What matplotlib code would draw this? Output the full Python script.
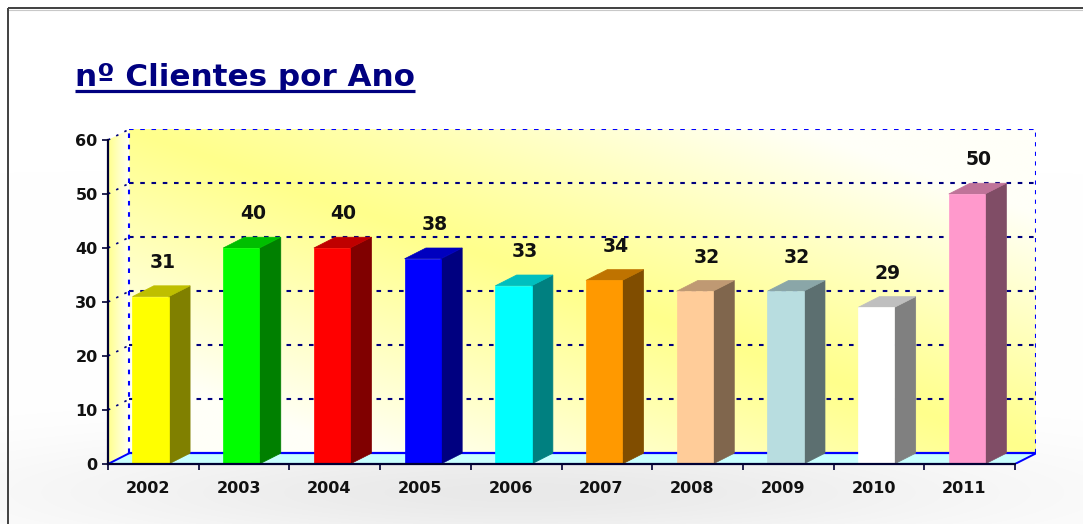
import numpy as np
import matplotlib
matplotlib.use("Agg")
import matplotlib.pyplot as plt
from matplotlib.patches import Rectangle, Polygon
from matplotlib.lines import Line2D
from matplotlib.colors import to_rgb

# ---------------- data ----------------
years = ["2002", "2003", "2004", "2005", "2006", "2007", "2008", "2009", "2010", "2011"]
clients = [31, 40, 40, 38, 33, 34, 32, 32, 29, 50]
bar_colors = ["#ffff00", "#00ff00", "#ff0000", "#0000ff", "#00ffff",
              "#ff9900", "#ffcc99", "#b8dde0", "#ffffff", "#ff99cc"]
y_ticks = [0, 10, 20, 30, 40, 50, 60]
title = "nº Clientes por Ano"

# ---------------- layout ----------------
W, H = 1083, 524
fig = plt.figure(figsize=(W / 100, H / 100), dpi=100)
fig.patch.set_facecolor("white")

# soft gray shadow in background
bg = fig.add_axes([0, 0, 1, 1], zorder=-10)
bg.set_axis_off()
gx, gy = np.meshgrid(np.arange(W), np.arange(H))
shade = 0.085 * np.exp(-((gx - 520) / 480.0) ** 2 - ((gy - 492) / 55.0) ** 2)
img = np.clip(1 - shade, 0, 1)
bg.imshow(np.dstack([img, img, img]), extent=(0, W, H, 0), aspect="auto", zorder=-10)
bg.set_xlim(0, W)
bg.set_ylim(H, 0)
# frame lines (top, left)
bg.plot([8, W], [8, 8], color="#404040", lw=1.4, solid_capstyle="butt")
bg.plot([9, W], [10, 10], color="#c8c8c8", lw=0.8)
bg.plot([8, 8], [8, H], color="#404040", lw=1.4, solid_capstyle="butt")

# depth of the 3D effect (data units)
DX, DY = 0.235, 2.0
ux, uy = 90.7, 5.4  # pixels per data unit
left_px, base_px = 108, 464
ax_w = (10 + DX) * ux
ax_h = (60 + DY) * uy
ax = fig.add_axes([left_px / W, (H - base_px) / H, ax_w / W, ax_h / H])
ax.set_facecolor("none")

xl0, xr0 = -0.5, len(years) - 0.5

# back wall gradient: yellow along the diagonal, paler toward off-diagonal corners
n = 300
u, v = np.meshgrid(np.linspace(0, 1, n), np.linspace(0, 1, n))  # v: 0 top, 1 bottom
d = np.abs(u - v)
t = np.clip(d * 1.35, 0, 1) ** 1.1
yellow = np.array(to_rgb("#ffff8c"))
white = np.array(to_rgb("#fffff8"))
wall = yellow[None, None, :] * (1 - t[..., None]) + white[None, None, :] * t[..., None]
ax.imshow(wall, extent=(xl0 + DX, xr0 + DX, DY, 60 + DY), origin="upper",
          aspect="auto", zorder=0, interpolation="bilinear")

# left side wall gradient (yellow at front edge, white toward back)
sw = np.linspace(0, 1, 50)
side = yellow[None, :] * (1 - sw[:, None]) + np.array([1, 1, 0.97])[None, :] * sw[:, None]
side_img = np.repeat(side[None, :, :], 10, axis=0)
im = ax.imshow(side_img, extent=(xl0, xl0 + DX, 0, 60 + DY), origin="upper",
               aspect="auto", zorder=0.5, interpolation="bilinear")
side_poly = Polygon([(xl0, 0), (xl0 + DX, DY), (xl0 + DX, 60 + DY), (xl0, 60)],
                    closed=True, facecolor="none", edgecolor="none", transform=ax.transData)
ax.add_patch(side_poly)
im.set_clip_path(side_poly)

# floor
floor = Polygon([(xl0, 0), (xr0, 0), (xr0 + DX, DY), (xl0 + DX, DY)], closed=True,
                facecolor="#c8ffff", edgecolor="none", zorder=1)
ax.add_patch(floor)

# gridlines on back wall and left wall
for yv in y_ticks[1:]:
    col = "#0000ff" if yv == 60 else "#000080"
    ax.plot([xl0 + DX, xr0 + DX], [yv + DY, yv + DY], color=col, lw=1.5,
            linestyle=(0, (2.2, 3.2)), zorder=1.5)
    ax.plot([xl0, xl0 + DX], [yv, yv + DY], color="#000080", lw=1.2,
            linestyle=(0, (1.5, 4)), zorder=1.5)
# back wall vertical edges
ax.plot([xl0 + DX, xl0 + DX], [DY, 60 + DY], color="#0000ff", lw=1.5,
        linestyle=(0, (2.2, 3.2)), zorder=1.5)
ax.plot([xr0 + DX, xr0 + DX], [DY, 60 + DY], color="#0000ff", lw=1.5,
        linestyle=(0, (2.0, 2.6)), zorder=1.5)
# floor back edge and diagonals
ax.plot([xl0 + DX, xr0 + DX], [DY, DY], color="#0000ff", lw=1.6, zorder=1.6)
ax.plot([xl0, xl0 + DX], [0, DY], color="#0000ff", lw=1.4, zorder=1.6)
ax.plot([xr0, xr0 + DX], [0, DY], color="#0000ff", lw=1.4, zorder=5)

# bars with 3D faces
BW, OFF = 0.40, -0.03
for i, (val, c) in enumerate(zip(clients, bar_colors)):
    rgb = np.array(to_rgb(c))
    side_c = rgb * 0.5
    top_c = rgb * 0.75
    xl = i + OFF - BW / 2
    xr = i + OFF + BW / 2
    ax.add_patch(Polygon([(xr, 0), (xr + DX, DY), (xr + DX, val + DY), (xr, val)],
                         closed=True, facecolor=side_c, edgecolor=side_c, lw=0.5, zorder=3))
    ax.add_patch(Polygon([(xl, val), (xr, val), (xr + DX, val + DY), (xl + DX, val + DY)],
                         closed=True, facecolor=top_c, edgecolor=top_c, lw=0.5, zorder=3))
    ax.add_patch(Rectangle((xl, 0), BW, val, facecolor=rgb, edgecolor=rgb, lw=0.5, zorder=3.5))
    ax.text(i + DX / 2 - 0.02, val + 6.3, str(val), ha="center", va="center",
            fontsize=13.5, fontweight="bold", color="#111111", zorder=4)

# axes, ticks and labels
ax.set_xlim(xl0, xr0 + DX)
ax.set_ylim(0, 60 + DY)
for s in ["top", "right"]:
    ax.spines[s].set_visible(False)
ax.spines["left"].set_bounds(0, 60)
ax.spines["bottom"].set_bounds(xl0, xr0)
for s in ["left", "bottom"]:
    ax.spines[s].set_color("#000033")
    ax.spines[s].set_linewidth(1.6)
    ax.spines[s].set_zorder(6)

ax.set_yticks(y_ticks)
ax.set_yticklabels([str(t) for t in y_ticks])
ax.tick_params(axis="y", length=4.5, width=1.2, color="#000033", pad=3,
               labelsize=11.5, labelcolor="#111111")
for lab in ax.get_yticklabels():
    lab.set_fontweight("bold")

ax.set_xticks([i - 0.06 for i in range(len(years))])
ax.set_xticklabels(years)
ax.set_xticks([i - 0.5 for i in range(len(years) + 1)], minor=True)
ax.tick_params(axis="x", which="major", length=0, pad=12, labelsize=11.5, labelcolor="#111111")
ax.tick_params(axis="x", which="minor", length=4.5, width=1.2, color="#000033")
for lab in ax.get_xticklabels():
    lab.set_fontweight("bold")

# title with underline
tt = fig.text(75 / W, (H - 86) / H, title, ha="left", va="baseline",
              fontsize=22.3, fontweight="bold", color="#000080")
fig.canvas.draw()
bb = tt.get_window_extent()
uy_fig = (H - 91) / H
fig.add_artist(Line2D([bb.x0 / W, bb.x1 / W], [uy_fig, uy_fig], color="#000080",
                      lw=2.3, transform=fig.transFigure, solid_capstyle="butt"))

fig.savefig("out.png", dpi=100, facecolor="white")
